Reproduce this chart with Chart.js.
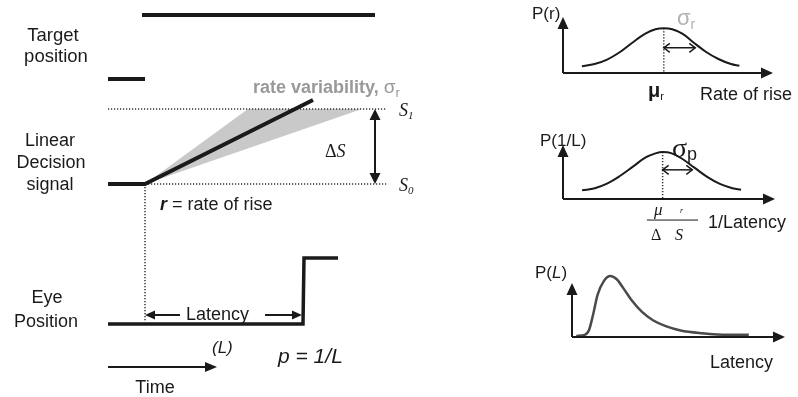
<!DOCTYPE html>
<html>
<head>
<meta charset="utf-8">
<script src="https://cdn.jsdelivr.net/npm/chart.js@4.4.1/dist/chart.umd.min.js"></script>
<style>
  body { margin: 0; background: #fff; }
  #wrap { position: relative; width: 798px; height: 397px; }
  #wrap canvas { position: absolute; left: 0; top: 0; }
</style>
</head>
<body>
<div id="wrap">
  <canvas id="timeline" width="798" height="397"></canvas>
  <canvas id="rateDist" width="798" height="397"></canvas>
  <canvas id="invDist" width="798" height="397"></canvas>
  <canvas id="latDist" width="798" height="397"></canvas>
</div>
<script>
// --- schematic traces (x = time, y = level, page units) ---
var targetBefore = [[108, 79], [145, 79]];
var targetAfter = [[142, 15], [375, 15]];
var thresholdS1 = [[108, 109], [387, 109]];
var baselineS0 = [[145, 184], [387, 184]];
var onsetMark = [[145, 184], [145, 322]];
var decisionTrace = [[108, 184], [145, 184], [313, 100]];
var rateFan = [[145, 184], [248, 109], [362, 109], [145, 184]];
var eyeTrace = [[108, 324], [303, 324], [304, 258], [338, 258]];

// --- distributions (x, y in 0..100 of each little plot) ---
var rateX = [9, 15, 21, 27, 33, 39, 44, 48, 52, 57, 62, 68, 74, 80, 84];
var rateP = [12, 16, 24, 37, 54, 70, 78, 80, 78, 70, 55, 38, 25, 16, 13];
var rateMean = 48, rateSigma = 15;

var invX = [9, 15, 21, 27, 33, 39, 44, 47, 51, 56, 62, 68, 74, 80, 84];
var invP = [16, 20, 29, 43, 60, 77, 85, 87, 85, 75, 58, 41, 28, 20, 17];
var invMean = 47, invSigma = 14;

var latX = [2, 6, 8, 10, 12, 15, 18, 21, 24, 28, 33, 38, 44, 51, 61, 73, 83];
var latP = [2, 4, 13, 43, 78, 104, 113, 107, 91, 68, 46, 31, 20, 12, 7, 4, 4];

var SANS = '"Liberation Sans", Arial, sans-serif';
var SERIF = '"Liberation Serif", "Times New Roman", serif';
var INK = '#1a1a1a';

function pts(list) {
  return list.map(function (p) { return { x: p[0], y: p[1] }; });
}
function zip(xs, ys) {
  return xs.map(function (x, i) { return { x: x, y: ys[i] }; });
}

function head(ctx, x, y, ang, len, w, open) {
  var c = Math.cos(ang), s = Math.sin(ang);
  var lx = x - len * c + (w / 2) * s, ly = y - len * s - (w / 2) * c;
  var rx = x - len * c - (w / 2) * s, ry = y - len * s + (w / 2) * c;
  ctx.beginPath();
  if (open) {
    ctx.moveTo(lx, ly); ctx.lineTo(x, y); ctx.lineTo(rx, ry);
    ctx.stroke();
  } else {
    ctx.moveTo(x, y); ctx.lineTo(lx, ly); ctx.lineTo(rx, ry);
    ctx.closePath(); ctx.fill();
  }
}

function drawArrow(ctx, x1, y1, x2, y2, a) {
  var ang = Math.atan2(y2 - y1, x2 - x1);
  var len = a.len || 10, w = a.w || 9;
  var cut = a.open || a.head === false ? 0 : len * 0.8;
  var sx = x1, sy = y1, ex = x2, ey = y2;
  if (a.head !== false) { ex -= cut * Math.cos(ang); ey -= cut * Math.sin(ang); }
  if (a.both) { sx += cut * Math.cos(ang); sy += cut * Math.sin(ang); }
  ctx.strokeStyle = a.color || INK;
  ctx.fillStyle = a.color || INK;
  ctx.lineWidth = a.width || 2;
  ctx.beginPath(); ctx.moveTo(sx, sy); ctx.lineTo(ex, ey); ctx.stroke();
  ctx.lineWidth = a.open ? 1.5 : 1;
  if (a.head !== false) head(ctx, x2, y2, ang, len, w, a.open);
  if (a.both) head(ctx, x1, y1, ang + Math.PI, len, w, a.open);
}

// text runs: parts share one baseline, dy shifts subscripts
function drawRich(ctx, t) {
  var total = 0;
  t.parts.forEach(function (p) {
    ctx.font = p.font || ('18px ' + SANS);
    p._w = ctx.measureText(p.t).width;
    total += p._w;
  });
  var x = t.align === 'center' ? t.x - total / 2 : t.x;
  ctx.textBaseline = 'alphabetic';
  ctx.textAlign = 'left';
  t.parts.forEach(function (p) {
    ctx.font = p.font || ('18px ' + SANS);
    ctx.fillStyle = p.color || INK;
    ctx.fillText(p.t, x, t.y + (p.dy || 0));
    x += p._w;
  });
}

function overlay(spec) {
  return {
    id: 'overlay',
    afterDatasetsDraw: function (chart) {
      var ctx = chart.ctx, xs = chart.scales.x, ys = chart.scales.y;
      ctx.save();
      (spec.arrows || []).forEach(function (a) {
        drawArrow(ctx, xs.getPixelForValue(a.from[0]), ys.getPixelForValue(a.from[1]),
          xs.getPixelForValue(a.to[0]), ys.getPixelForValue(a.to[1]), a);
      });
      (spec.texts || []).forEach(function (t) { drawRich(ctx, t); });
      ctx.restore();
    }
  };
}

function line(data, extra) {
  var d = {
    data: data, showLine: true, pointRadius: 0, borderColor: INK,
    borderWidth: 2, tension: 0, borderCapStyle: 'butt', borderJoinStyle: 'miter',
    fill: false, clip: false
  };
  for (var k in extra) d[k] = extra[k];
  return d;
}

function baseOptions(xmin, xmax, ymin, ymax, reverse, padding) {
  return {
    responsive: false,
    maintainAspectRatio: false,
    animation: false,
    events: [],
    layout: { padding: padding },
    plugins: { legend: { display: false }, tooltip: { enabled: false } },
    scales: {
      x: { type: 'linear', display: false, min: xmin, max: xmax },
      y: { type: 'linear', display: false, min: ymin, max: ymax, reverse: reverse }
    }
  };
}

var dots = [1.2, 1.8];

// ---------- left: target, decision signal, eye position ----------
new Chart(document.getElementById('timeline'), {
  type: 'scatter',
  data: {
    datasets: [
      line(pts(targetBefore), { borderWidth: 4, order: 0 }),
      line(pts(targetAfter), { borderWidth: 4, order: 0 }),
      line(pts(decisionTrace), { borderWidth: 4, order: 0 }),
      line(pts(eyeTrace), { borderWidth: 3.5, order: 0 }),
      line(pts(thresholdS1), { borderWidth: 1.5, borderDash: dots, borderColor: '#333', order: 1 }),
      line(pts(baselineS0), { borderWidth: 1.5, borderDash: dots, borderColor: '#333', order: 1 }),
      line(pts(onsetMark), { borderWidth: 1.5, borderDash: dots, borderColor: '#333', order: 1 }),
      line(pts(rateFan), { borderWidth: 0, borderColor: 'rgba(0,0,0,0)', backgroundColor: '#c9c9c9', fill: 'shape', order: 5 })
    ]
  },
  options: baseOptions(0, 798, 0, 397, true, 0),
  plugins: [overlay({
    arrows: [
      { from: [375, 109], to: [375, 184], both: true, width: 2, len: 11, w: 11 },
      { from: [180, 315], to: [145, 315], width: 2, len: 10, w: 9 },
      { from: [265, 315], to: [302, 315], width: 2, len: 10, w: 9 },
      { from: [108, 367], to: [217, 367], width: 2, len: 12, w: 10 }
    ],
    texts: [
      { x: 53, y: 41, align: 'center', parts: [{ t: 'Target', font: '18.5px ' + SANS }] },
      { x: 56, y: 62, align: 'center', parts: [{ t: 'position', font: '18.5px ' + SANS }] },
      { x: 50, y: 146, align: 'center', parts: [{ t: 'Linear' }] },
      { x: 51, y: 168, align: 'center', parts: [{ t: 'Decision' }] },
      { x: 50, y: 190, align: 'center', parts: [{ t: 'signal' }] },
      { x: 47, y: 303, align: 'center', parts: [{ t: 'Eye' }] },
      { x: 46, y: 327, align: 'center', parts: [{ t: 'Position' }] },
      { x: 155, y: 393, align: 'center', parts: [{ t: 'Time' }] },
      { x: 186, y: 320, parts: [{ t: 'Latency' }] },
      { x: 212, y: 353, parts: [{ t: '(L)', font: 'italic 17px ' + SANS }] },
      { x: 278, y: 363, parts: [{ t: 'p = 1/L', font: 'italic 21px ' + SANS }] },
      { x: 160, y: 210, parts: [{ t: 'r', font: 'bold italic 18px ' + SANS }, { t: ' = rate of rise' }] },
      { x: 253, y: 93, parts: [
        { t: 'rate variability, ', font: 'bold 18px ' + SANS, color: '#999' },
        { t: 'σ', font: '19px ' + SANS, color: '#999' },
        { t: 'r', font: '13px ' + SANS, color: '#999', dy: 4 }
      ] },
      { x: 325, y: 157, parts: [{ t: 'Δ', font: '18px ' + SERIF }, { t: 'S', font: 'italic 18px ' + SERIF }] },
      { x: 399, y: 116, parts: [{ t: 'S', font: 'italic 18px ' + SERIF }, { t: '1', font: 'italic 11px ' + SERIF, dy: 3 }] },
      { x: 399, y: 191, parts: [{ t: 'S', font: 'italic 18px ' + SERIF }, { t: '0', font: 'italic 11px ' + SERIF, dy: 3 }] }
    ]
  })]
});

var axes = [
  { from: [0, 0], to: [100, 0], width: 2, len: 12, w: 11 },
  { from: [0, 0], to: [0, 100], width: 2, len: 12, w: 11 }
];

// ---------- P(r) ----------
new Chart(document.getElementById('rateDist'), {
  type: 'scatter',
  data: {
    datasets: [
      line(zip(rateX, rateP), { tension: 0.4 }),
      line([{ x: rateMean, y: 80 }, { x: rateMean, y: 0 }], { borderWidth: 1.5, borderDash: dots, borderColor: '#333' })
    ]
  },
  options: baseOptions(0, 100, 0, 100, false, { left: 563, right: 25, top: 17, bottom: 324 }),
  plugins: [overlay({
    arrows: axes.concat([
      { from: [rateMean, 45], to: [rateMean + rateSigma, 45], both: true, open: true, width: 1.5, len: 6, w: 9 }
    ]),
    texts: [
      { x: 532, y: 19, parts: [{ t: 'P(r)', font: '17px ' + SANS }] },
      { x: 677, y: 25, parts: [{ t: 'σ', font: '22px ' + SANS, color: '#b3b3b3' }, { t: 'r', font: '14px ' + SANS, color: '#b3b3b3', dy: 4 }] },
      { x: 648, y: 97, parts: [{ t: 'μ', font: 'bold 20px ' + SANS }, { t: 'r', font: '11px ' + SANS, dy: 3 }] },
      { x: 700, y: 100, parts: [{ t: 'Rate of rise' }] }
    ]
  })]
});

// ---------- P(1/L) ----------
new Chart(document.getElementById('invDist'), {
  type: 'scatter',
  data: {
    datasets: [
      line(zip(invX, invP), { tension: 0.4 }),
      line([{ x: invMean, y: 87 }, { x: invMean, y: 0 }], { borderWidth: 1.5, borderDash: dots, borderColor: '#333' })
    ]
  },
  options: baseOptions(0, 100, 0, 100, false, { left: 563, right: 23, top: 145, bottom: 198 }),
  plugins: [overlay({
    arrows: axes.concat([
      { from: [invMean, 54], to: [invMean + invSigma, 54], both: true, open: true, width: 1.5, len: 6, w: 9 },
      { from: [39.6, -39], to: [63.7, -39], head: false, width: 1 }
    ]),
    texts: [
      { x: 540, y: 146, parts: [{ t: 'P(1/L)', font: '17px ' + SANS }] },
      { x: 672, y: 157, parts: [{ t: 'σ', font: '28px ' + SERIF }, { t: 'p', font: '18px ' + SANS, dy: 3 }] },
      { x: 654, y: 215, parts: [{ t: 'μ', font: 'italic 17px ' + SERIF }] },
      { x: 680, y: 213, parts: [{ t: 'r', font: 'italic 8px ' + SERIF }] },
      { x: 651, y: 240, parts: [{ t: 'Δ', font: '16px ' + SERIF }] },
      { x: 675, y: 240, parts: [{ t: 'S', font: 'italic 16px ' + SERIF }] },
      { x: 708, y: 228, parts: [{ t: '1/Latency' }] }
    ]
  })]
});

// ---------- P(L) ----------
new Chart(document.getElementById('latDist'), {
  type: 'scatter',
  data: {
    datasets: [
      line(zip(latX, latP), { cubicInterpolationMode: 'monotone', borderWidth: 2.5, borderColor: '#4a4a4a' })
    ]
  },
  options: baseOptions(0, 100, 0, 100, false, { left: 572, right: 13, top: 283, bottom: 60 }),
  plugins: [overlay({
    arrows: axes,
    texts: [
      { x: 535, y: 278, parts: [{ t: 'P(', font: '17px ' + SANS }, { t: 'L', font: 'italic 17px ' + SANS }, { t: ')', font: '17px ' + SANS }] },
      { x: 710, y: 368, parts: [{ t: 'Latency' }] }
    ]
  })]
});
</script>
</body>
</html>
